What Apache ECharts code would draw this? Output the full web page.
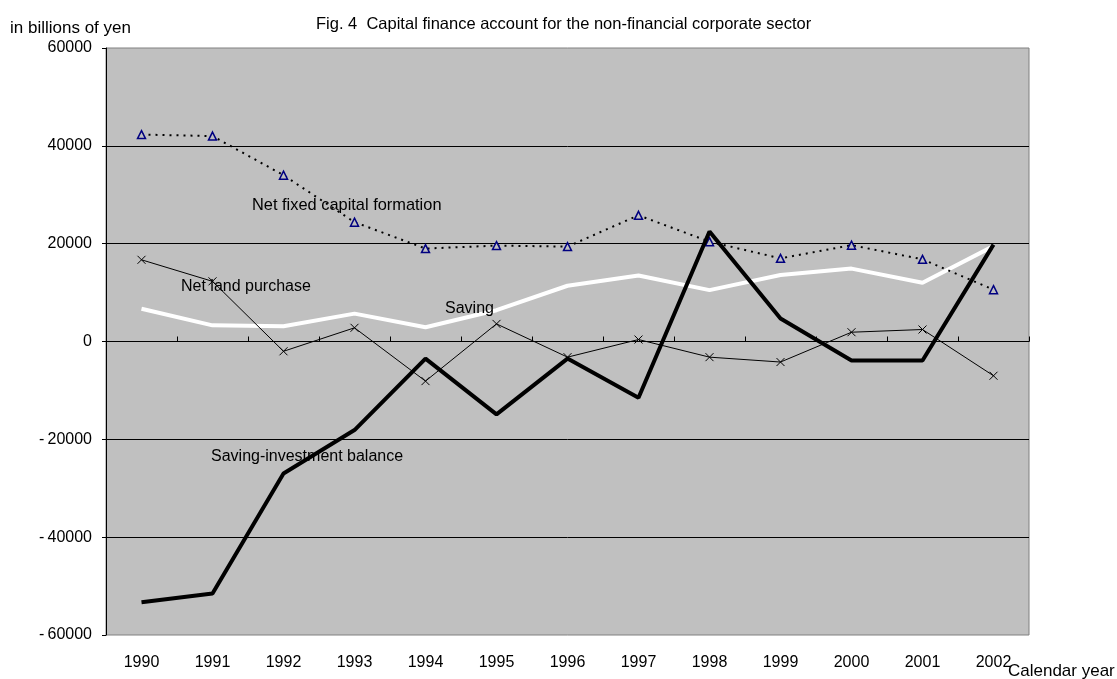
<!DOCTYPE html>
<html>
<head>
<meta charset="utf-8">
<title>Capital finance account for the non-financial corporate sector</title>
<script src="https://cdn.jsdelivr.net/npm/echarts@6/dist/echarts.min.js"></script>
<style>
  html, body { margin: 0; padding: 0; background: #fff; }
  #chart { width: 1117px; height: 679px; }
</style>
</head>
<body>
<div id="chart"></div>
<script>
// Calendar years on the horizontal axis
const years = ['1990', '1991', '1992', '1993', '1994', '1995', '1996',
               '1997', '1998', '1999', '2000', '2001', '2002'];

// Series values, in billions of yen
const netFixedCapitalFormation = [42300, 42000, 34000, 24400, 19000, 19600, 19400,
                                  25800, 20400, 17000, 19700, 16800, 10600];
const netLandPurchase = [16700, 12300, -2000, 2800, -8100, 3600, -3200,
                         400, -3200, -4200, 1900, 2450, -7000];
const saving = [6700, 3300, 3100, 5700, 2900, 6400, 11400,
                13500, 10500, 13600, 14900, 12000, 19500];
const savingInvestmentBalance = [-53300, -51500, -27000, -18100, -3500, -14900, -3500,
                                 -11500, 22500, 4700, -3900, -3900, 19800];

// Value axis range and step
const yMin = -60000;
const yMax = 60000;
const yStep = 20000;

const FONT = '"Liberation Sans", Arial, sans-serif';

const chart = echarts.init(document.getElementById('chart'), null, { renderer: 'canvas' });

const crossSymbol = 'path://M0,0L10,10M10,0L0,10';

chart.setOption({
  animation: false,
  backgroundColor: '#ffffff',
  textStyle: { fontFamily: FONT },
  grid: {
    left: 106, right: 88, top: 48, bottom: 44,
    show: true,
    backgroundColor: '#c0c0c0',
    borderColor: '#808080',
    borderWidth: 1
  },
  xAxis: [
    {
      // bottom labels only
      type: 'category',
      data: years,
      position: 'bottom',
      boundaryGap: true,
      axisLine: { show: false, onZero: false },
      axisTick: { show: false },
      axisLabel: { color: '#000', fontSize: 16, fontFamily: FONT, margin: 20 },
      splitLine: { show: false }
    },
    {
      // axis line drawn along zero, with ticks pointing up
      type: 'category',
      data: years,
      position: 'bottom',
      boundaryGap: true,
      axisLine: { show: true, onZero: true, lineStyle: { color: '#000', width: 1 } },
      axisTick: { show: true, inside: true, length: 5, lineStyle: { color: '#000' } },
      axisLabel: { show: false },
      splitLine: { show: false }
    }
  ],
  yAxis: {
    type: 'value',
    min: yMin,
    max: yMax,
    interval: yStep,
    axisLine: { show: true, lineStyle: { color: '#000', width: 1 } },
    axisTick: { show: true, length: 4, lineStyle: { color: '#000' } },
    axisLabel: {
      color: '#000', fontSize: 16, fontFamily: FONT, margin: 14,
      formatter: v => (v < 0 ? '-\u2009' + Math.abs(v) : String(v))
    },
    splitLine: {
      show: true,
      showMinLine: false,
      showMaxLine: false,
      lineStyle: { color: '#000', width: 1 }
    }
  },
  series: [
    {
      name: 'Net fixed capital formation',
      type: 'line',
      data: netFixedCapitalFormation,
      symbol: 'triangle',
      symbolSize: 8,
      showAllSymbol: true,
      lineStyle: { color: '#000', width: 2, type: [2, 5] },
      itemStyle: { color: '#c0c0c0', borderColor: '#000080', borderWidth: 1.5 },
      z: 3
    },
    {
      name: 'Net land purchase',
      type: 'line',
      data: netLandPurchase,
      symbol: crossSymbol,
      symbolSize: 8,
      showAllSymbol: true,
      lineStyle: { color: '#000', width: 1 },
      itemStyle: { color: '#000', borderColor: '#000', borderWidth: 1 },
      z: 3
    },
    {
      name: 'Saving',
      type: 'line',
      data: saving,
      symbol: 'none',
      lineStyle: { color: '#ffffff', width: 4 },
      z: 2
    },
    {
      name: 'Saving-investment balance',
      type: 'line',
      data: savingInvestmentBalance,
      symbol: 'none',
      lineStyle: { color: '#000', width: 4 },
      z: 4
    }
  ],
  graphic: [
    { type: 'text', left: 10, top: 20,
      style: { text: 'in billions of yen', font: '17px ' + FONT, fill: '#000' } },
    { type: 'text', left: 316, top: 16,
      style: { text: 'Fig. 4  Capital finance account for the non-financial corporate sector',
               font: '16.5px ' + FONT, fill: '#000' } },
    { type: 'text', left: 1008, top: 663,
      style: { text: 'Calendar year', font: '17px ' + FONT, fill: '#000' } },
    { type: 'text', left: 252, top: 197, z: 10,
      style: { text: 'Net fixed capital formation', font: '16.4px ' + FONT, fill: '#000' } },
    { type: 'text', left: 181, top: 279, z: 10,
      style: { text: 'Net land purchase', font: '16px ' + FONT, fill: '#000' } },
    { type: 'text', left: 445, top: 301, z: 10,
      style: { text: 'Saving', font: '16px ' + FONT, fill: '#000' } },
    { type: 'text', left: 211, top: 449, z: 10,
      style: { text: 'Saving-investment balance', font: '16px ' + FONT, fill: '#000' } }
  ]
});
</script>
</body>
</html>
